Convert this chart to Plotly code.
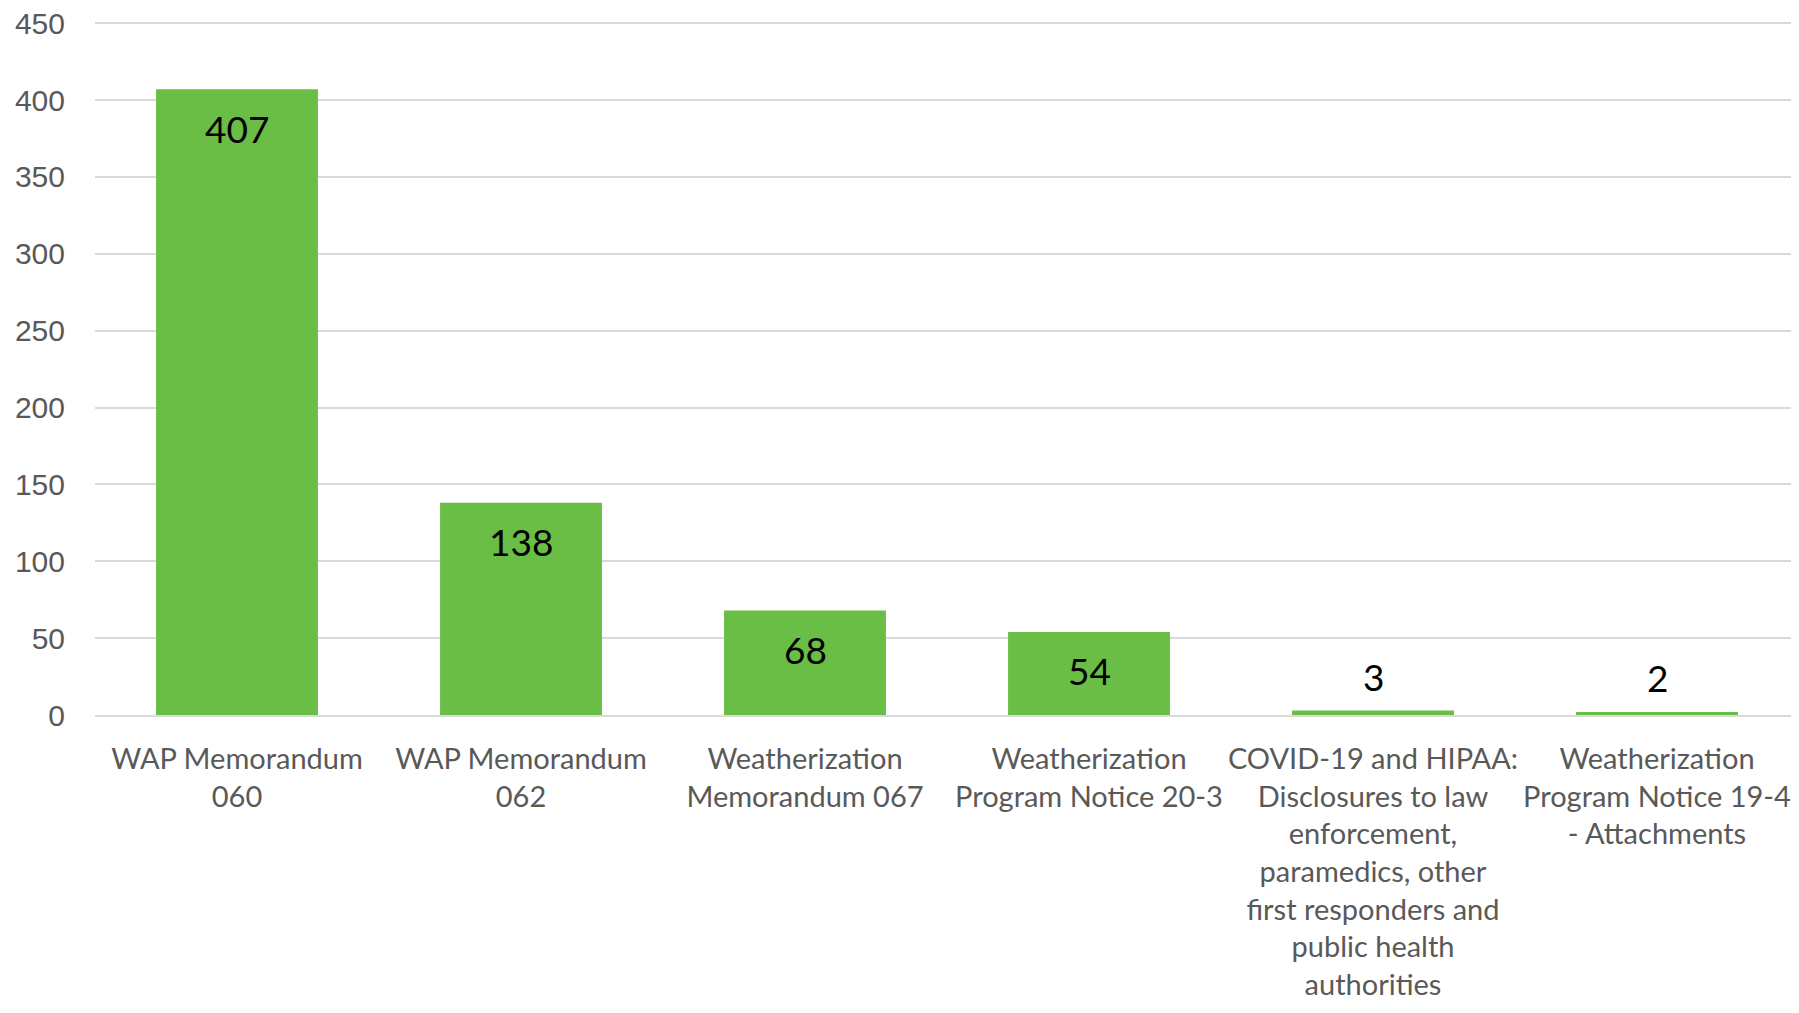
import plotly.graph_objects as go

categories = [
    "WAP Memorandum<br>060",
    "WAP Memorandum<br>062",
    "Weatherization<br>Memorandum 067",
    "Weatherization<br>Program Notice 20-3",
    "COVID-19 and HIPAA:<br>Disclosures to law<br>enforcement,<br>paramedics, other<br>first responders and<br>public health<br>authorities",
    "Weatherization<br>Program Notice 19-4<br>- Attachments",
]
values = [407, 138, 68, 54, 3, 2]
label_inside = [True, True, True, True, False, False]
y_ticks = [0, 50, 100, 150, 200, 250, 300, 350, 400, 450]

fig = go.Figure(
    go.Bar(
        x=categories,
        y=values,
        marker=dict(color="#6abd45", line=dict(width=0)),
        hoverinfo="x+y",
    )
)

for cat, val, inside in zip(categories, values, label_inside):
    fig.add_annotation(
        x=cat,
        y=val,
        xref="x",
        yref="y",
        text=str(val),
        showarrow=False,
        yanchor="middle",
        yshift=-39 if inside else 34,
        font=dict(family="Lato", size=37, color="#000000"),
    )

fig.update_layout(
    width=1791,
    height=1005,
    margin=dict(l=87, r=0, t=14, b=298),
    paper_bgcolor="white",
    plot_bgcolor="white",
    bargap=0.43,
    showlegend=False,
    xaxis=dict(
        tickfont=dict(family="Lato", size=29, color="#595959"),
        tickangle=0,
        showgrid=False,
        showline=True,
        linecolor="#d9d9d9",
        linewidth=2,
        ticks="",
        ticklabelstandoff=17,
        ticklabeloverflow="allow",
        automargin=False,
    ),
    yaxis=dict(
        range=[0, 450.8],
        tickvals=y_ticks,
        tickfont=dict(family="Liberation Sans", size=30, color="#595959"),
        showgrid=True,
        gridcolor="#d9d9d9",
        gridwidth=2,
        zeroline=False,
        showline=False,
        ticks="",
        ticklabelstandoff=29,
        ticklabeloverflow="allow",
        automargin=False,
    ),
)

fig.write_html("out.html")
